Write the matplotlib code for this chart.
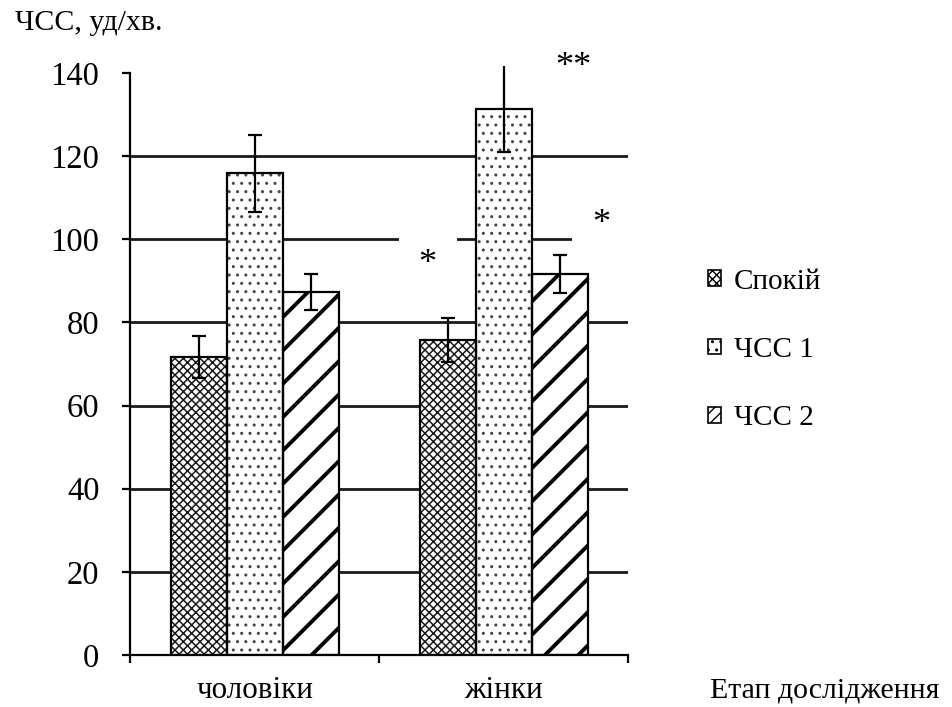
import numpy as np
import matplotlib
matplotlib.use("Agg")
import matplotlib.pyplot as plt
from matplotlib.patches import Patch

plt.rcParams['font.family'] = ['Liberation Serif', 'DejaVu Serif']

groups = ["чоловіки", "жінки"]
series = ["Спокій", "ЧСС 1", "ЧСС 2"]
values = {
    "Спокій": [71.7, 75.8],
    "ЧСС 1": [115.9, 131.3],
    "ЧСС 2": [87.3, 91.7],
}
errors = {
    "Спокій": [5.0, 5.3],
    "ЧСС 1": [9.3, 10.3],
    "ЧСС 2": [4.4, 4.5],
}
# significance marks: (x position, value, text)
marks = [(0.695, 94.0, "*"), (1.279, 141.3, "**"), (1.393, 103.6, "*")]

hatches = {"Спокій": "xxxx", "ЧСС 1": "..", "ЧСС 2": "/"}
hatch_lw = {"Спокій": 1.1, "ЧСС 1": 1.0, "ЧСС 2": 2.8}
hatch_col = {"Спокій": "#1a1a1a", "ЧСС 1": "#444444", "ЧСС 2": "black"}
legend_hatches = {"Спокій": "xxxx", "ЧСС 1": "..", "ЧСС 2": "///"}

fig = plt.figure(figsize=(9.52, 7.07), dpi=100)
ax = fig.add_axes([0.1366, 0.0735, 0.5231, 0.8232])

x = np.arange(len(groups))
width = 0.225
offsets = [-width, 0, width]

for ax_y in range(20, 140, 20):
    ax.axhline(ax_y, color="#1a1a1a", lw=2.0, zorder=0.5)

for s, off in zip(series, offsets):
    plt.rcParams['hatch.linewidth'] = hatch_lw[s]
    b = ax.bar(x + off, values[s], width, color="white", edgecolor=hatch_col[s],
               hatch=hatches[s], linewidth=0, zorder=2)
    for p in b:
        if hasattr(p, "set_hatch_linewidth"):
            p.set_hatch_linewidth(hatch_lw[s])
    ax.bar(x + off, values[s], width, fill=False, edgecolor="black", linewidth=1.6, zorder=2.1)
    eb = ax.errorbar(x + off, values[s], yerr=errors[s], fmt="none", ecolor="black",
                     elinewidth=1.6, capsize=5, capthick=1.6, zorder=3)
    for lc in eb[2]:
        lc.set_clip_on(False)

for xm, v, t in marks:
    ax.text(xm, v, t, ha="center", va="center", fontsize=26,
            clip_on=False, zorder=1,
            bbox=dict(boxstyle="square,pad=0.55", fc="white", ec="none"))

ax.set_xlim(-0.5, 1.5)
ax.set_ylim(0, 140)
ax.set_yticks(range(0, 141, 20))
ax.tick_params(axis="y", direction="out", length=6, width=1.6, pad=16, labelsize=23.5)

ax.set_xticks([-0.5, 0.5, 1.5])
ax.set_xticklabels([])
ax.tick_params(axis="x", which="major", direction="out", length=6, width=1.6)
ax.set_xticks(x, minor=True)
ax.set_xticklabels(groups, minor=True, fontsize=22.4)
ax.tick_params(axis="x", which="minor", length=0, pad=15)

for side in ["top", "right"]:
    ax.spines[side].set_visible(False)
for side in ["left", "bottom"]:
    ax.spines[side].set_linewidth(1.6)

fig.text(0.016, 0.968, "ЧСС, уд/хв.", fontsize=21.5, ha="left", va="center")
fig.text(0.746, 0.024, "Етап дослідження", fontsize=21.5, ha="left", va="center")

handles = []
for s in series:
    plt.rcParams['hatch.linewidth'] = 1.0
    handles.append(Patch(facecolor="white", edgecolor="black", hatch=legend_hatches[s], linewidth=1.2))
ax.legend(handles, series, loc="center left", bbox_to_anchor=(0.716, 0.505),
          bbox_transform=fig.transFigure, frameon=False, fontsize=21,
          handlelength=0.45, handleheight=0.45, handletextpad=0.45, labelspacing=1.45)

fig.savefig("out.png", dpi=100)
